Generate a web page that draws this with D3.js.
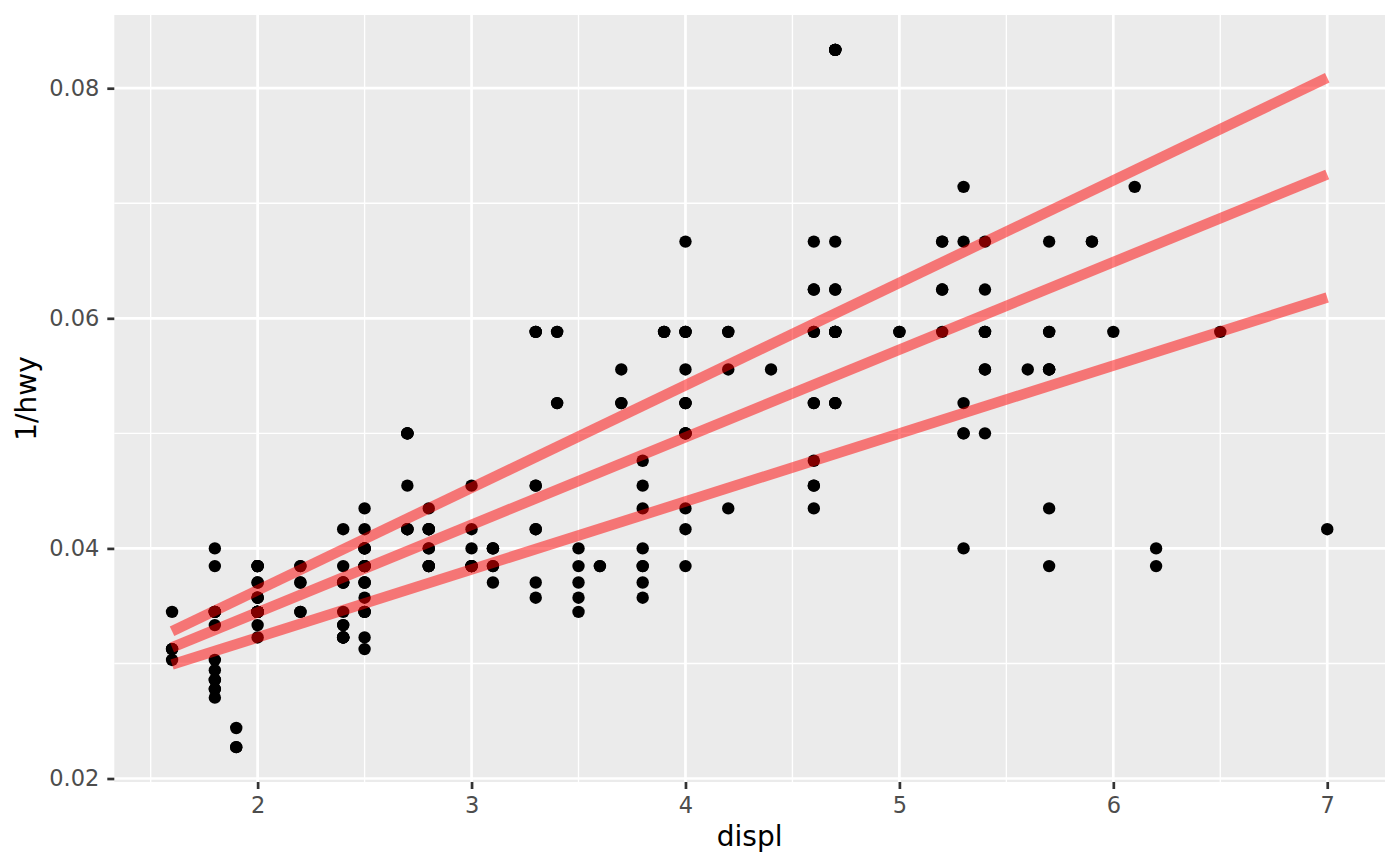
<!DOCTYPE html>
<html>
<head>
<meta charset="utf-8">
<script src="https://cdn.jsdelivr.net/npm/d3@7"></script>
<style>
  body { margin: 0; background: #fff; }
  svg { display: block; font-family: "DejaVu Sans", sans-serif; }
</style>
</head>
<body>
<svg id="chart" width="1400" height="866"></svg>
<script>
// mpg: engine displacement (litres) and highway mpg, one entry per car
const displ = [
  1.8,1.8,2.0,2.0,2.8,2.8,3.1, 1.8,1.8,2.0,2.0,2.8,2.8,3.1,3.1, 2.8,3.1,4.2,
  5.3,5.3,5.3,5.7,6.0, 5.7,5.7,6.2,6.2,7.0, 5.3,5.3,5.7,6.5, 2.4,2.4,3.1,3.5,3.6,
  2.4,3.0,3.3,3.3,3.3,3.3,3.3,3.8,3.8,3.8,4.0, 3.7,3.7,3.9,3.9,4.7,4.7,4.7,5.2,5.2,
  3.9,4.7,4.7,4.7,5.2,5.7,5.9, 4.7,4.7,4.7,4.7,4.7,4.7,5.2,5.2,5.7,5.9,
  4.6,5.4,5.4, 4.0,4.0,4.0,4.0,4.6,5.0, 4.2,4.2,4.6,4.6,4.6,5.4,5.4,
  3.8,3.8,4.0,4.0,4.6,4.6,4.6,4.6,5.4, 1.6,1.6,1.6,1.6,1.6,1.8,1.8,1.8,2.0,
  2.4,2.4,2.4,2.4,2.5,2.5,3.3, 2.0,2.0,2.0,2.0,2.7,2.7,2.7,
  3.0,3.7,4.0,4.7,4.7,4.7,5.7,6.1, 4.0,4.2,4.4,4.6, 5.4,5.4,5.4, 4.0,4.0,4.6,5.0,
  2.4,2.4,2.5,2.5,3.5,3.5, 3.0,3.0,3.5, 3.3,3.3,4.0,5.6, 3.1,3.8,3.8,3.8,5.3,
  2.5,2.5,2.5,2.5,2.5,2.5, 2.2,2.2,2.5,2.5,2.5,2.5,2.5,2.5,
  2.7,2.7,3.4,3.4,4.0,4.7, 2.2,2.2,2.4,2.4,3.0,3.0,3.5, 2.2,2.2,2.4,2.4,3.0,3.0,3.3,
  1.8,1.8,1.8,1.8,1.8, 4.7,5.7, 2.7,2.7,2.7,3.4,3.4,4.0,4.0,
  2.0,2.0,2.0,2.0,2.8, 1.9,2.0,2.0,2.0,2.0,2.5,2.5,2.8,2.8,
  1.9,1.9,2.0,2.0,2.5,2.5, 1.8,1.8,2.0,2.0,2.8,2.8,3.6
];
const hwy = [
  29,29,31,30,26,26,27, 26,25,28,27,25,25,25,25, 24,25,23,
  20,15,20,17,17, 26,23,26,25,24, 19,14,15,17, 27,30,26,29,26,
  24,24,22,22,24,24,17,22,21,23,23, 19,18,17,17,19,19,12,17,15,
  17,17,12,17,16,18,15, 16,12,17,17,16,12,15,16,17,15,
  17,17,18, 17,19,17,19,19,17, 17,17,16,16,17,15,17,
  26,25,26,24,21,22,23,22,20, 33,32,32,29,32,34,36,36,29,
  26,27,30,31,26,26,28, 26,29,28,27,24,24,24,
  22,19,20,17,12,19,18,14, 15,18,18,15, 17,16,18, 17,19,19,17,
  29,27,31,32,27,26, 26,25,25, 17,17,20,18, 26,26,27,28,25,
  25,24,27,25,26,23, 26,26,26,26,25,27,25,27,
  20,20,19,17,20,17, 29,27,31,31,26,26,28, 27,29,31,31,26,26,27,
  30,33,35,37,35, 15,18, 20,20,22,17,19,18,20,
  29,26,29,29,24, 44,29,26,29,29,29,29,23,24,
  44,41,29,26,28,29, 29,29,28,29,26,26,26
];

// quantile regression lines (tau 0.1, 0.5, 0.9), ends read at displ 1.6 and 7
const quantX = [1.6, 7];
const quantiles = [
  { tau: 0.1, y: [0.0299, 0.0618] },
  { tau: 0.5, y: [0.0314, 0.0725] },
  { tau: 0.9, y: [0.0328, 0.0809] }
];

const xTicks = [2, 3, 4, 5, 6, 7];
const xMinor = [1.5, 2.5, 3.5, 4.5, 5.5, 6.5];
const yTicks = [0.02, 0.04, 0.06, 0.08];
const yMinor = [0.03, 0.05, 0.07];

const width = 1400, height = 866;
const panel = { left: 114.3, right: 1385, top: 15, bottom: 782 };

const points = displ.map((d, i) => ({ x: d, y: 1 / hwy[i] }));

// ggplot-style 5% expansion of the data range
function expand(ext) {
  const pad = (ext[1] - ext[0]) * 0.05;
  return [ext[0] - pad, ext[1] + pad];
}

const x = d3.scaleLinear()
  .domain(expand(d3.extent(points, d => d.x)))
  .range([panel.left, panel.right]);
const y = d3.scaleLinear()
  .domain(expand(d3.extent(points, d => d.y)))
  .range([panel.bottom, panel.top]);

const svg = d3.select("#chart");

svg.append("rect")
  .attr("x", panel.left).attr("y", panel.top)
  .attr("width", panel.right - panel.left)
  .attr("height", panel.bottom - panel.top)
  .attr("fill", "#EBEBEB");

const grid = svg.append("g").attr("class", "grid").attr("stroke", "#fff");

// minor grid first, major on top
grid.selectAll("line.xminor").data(xMinor).join("line")
  .attr("x1", d => x(d)).attr("x2", d => x(d))
  .attr("y1", panel.top).attr("y2", panel.bottom)
  .attr("stroke-width", 1.35);
grid.selectAll("line.yminor").data(yMinor).join("line")
  .attr("y1", d => y(d)).attr("y2", d => y(d))
  .attr("x1", panel.left).attr("x2", panel.right)
  .attr("stroke-width", 1.35);
grid.selectAll("line.xmajor").data(xTicks).join("line")
  .attr("x1", d => x(d)).attr("x2", d => x(d))
  .attr("y1", panel.top).attr("y2", panel.bottom)
  .attr("stroke-width", 2.7);
grid.selectAll("line.ymajor").data(yTicks).join("line")
  .attr("y1", d => y(d)).attr("y2", d => y(d))
  .attr("x1", panel.left).attr("x2", panel.right)
  .attr("stroke-width", 2.7);

svg.append("g").attr("class", "points")
  .selectAll("circle")
  .data(points)
  .join("circle")
    .attr("cx", d => x(d.x))
    .attr("cy", d => y(d.y))
    .attr("r", 6.2)
    .attr("fill", "#000");

const line = d3.line()
  .x(d => x(d[0]))
  .y(d => y(d[1]));

svg.append("g").attr("class", "quantiles")
  .selectAll("path")
  .data(quantiles)
  .join("path")
    .attr("d", q => line(quantX.map((v, i) => [v, q.y[i]])))
    .attr("fill", "none")
    .attr("stroke", "red")
    .attr("stroke-opacity", 0.5)
    .attr("stroke-width", 10.5)
    .attr("stroke-linecap", "butt");

// axes
const xAxis = svg.append("g")
  .attr("transform", `translate(0,${panel.bottom})`)
  .call(d3.axisBottom(x).tickValues(xTicks).tickFormat(d3.format("d"))
    .tickSize(7).tickPadding(8));
const yAxis = svg.append("g")
  .attr("transform", `translate(${panel.left},0)`)
  .call(d3.axisLeft(y).tickValues(yTicks).tickFormat(d3.format(".2f"))
    .tickSize(7).tickPadding(8));

[xAxis, yAxis].forEach(ax => {
  ax.select(".domain").remove();
  ax.selectAll(".tick line").attr("stroke", "#333333").attr("stroke-width", 2.7);
  ax.selectAll(".tick text")
    .attr("fill", "#4D4D4D")
    .style("font-family", "DejaVu Sans, sans-serif")
    .style("font-size", "22.5px");
});

svg.append("text")
  .attr("x", (panel.left + panel.right) / 2)
  .attr("y", 846)
  .attr("text-anchor", "middle")
  .style("font-size", "28px")
  .attr("fill", "#000")
  .text("displ");

svg.append("text")
  .attr("transform", `translate(36,${(panel.top + panel.bottom) / 2}) rotate(-90)`)
  .attr("text-anchor", "middle")
  .style("font-size", "28px")
  .attr("fill", "#000")
  .text("1/hwy");
</script>
</body>
</html>
